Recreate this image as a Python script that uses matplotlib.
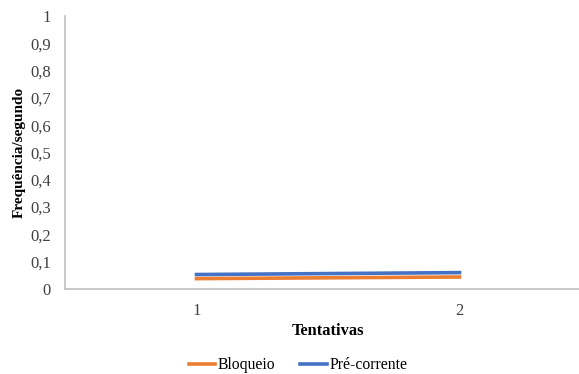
import matplotlib.pyplot as plt

# dados
tentativas = [1, 2]
bloqueio = [0.038, 0.044]
pre_corrente = [0.053, 0.060]
yticks = [0, 0.1, 0.2, 0.3, 0.4, 0.5, 0.6, 0.7, 0.8, 0.9, 1]

plt.rcParams['font.family'] = ['Liberation Serif', 'DejaVu Serif']

fig = plt.figure(figsize=(5.79, 3.74), dpi=100)
ax = fig.add_axes([65 / 579, 1 - 289 / 374, 526 / 579, 273 / 374])

ax.plot(tentativas, bloqueio, color='#ED7D31', lw=2.6, label='Bloqueio')
ax.plot(tentativas, pre_corrente, color='#4472C4', lw=2.6, label='Pré-corrente')

ax.set_xlim(0.5, 2.5)
ax.set_ylim(0, 1)
ax.set_xticks(tentativas)
ax.set_xticklabels([str(t) for t in tentativas])
ax.set_yticks(yticks)
ax.set_yticklabels([('%g' % v).replace('.', ',') for v in yticks])
ax.tick_params(length=0, labelsize=12, colors='#404040', pad=10)
ax.tick_params(axis='x', pad=10)

for s in ['top', 'right']:
    ax.spines[s].set_visible(False)
for s in ['left', 'bottom']:
    ax.spines[s].set_color('#BFBFBF')
    ax.spines[s].set_linewidth(1.2)

ax.set_xlabel('Tentativas', fontsize=11.8, fontweight='bold', labelpad=3)
ax.set_ylabel('Frequência/segundo', fontsize=11, fontweight='bold')
ax.yaxis.set_label_coords(-39 / 526, 0.5)

fig.legend(loc='center', bbox_to_anchor=(298 / 579, 1 - 365 / 374), ncol=2,
           frameon=False, fontsize=11.3, handlelength=1.7, handletextpad=0.15,
           columnspacing=1.6)

fig.savefig('out.png', dpi=100)
